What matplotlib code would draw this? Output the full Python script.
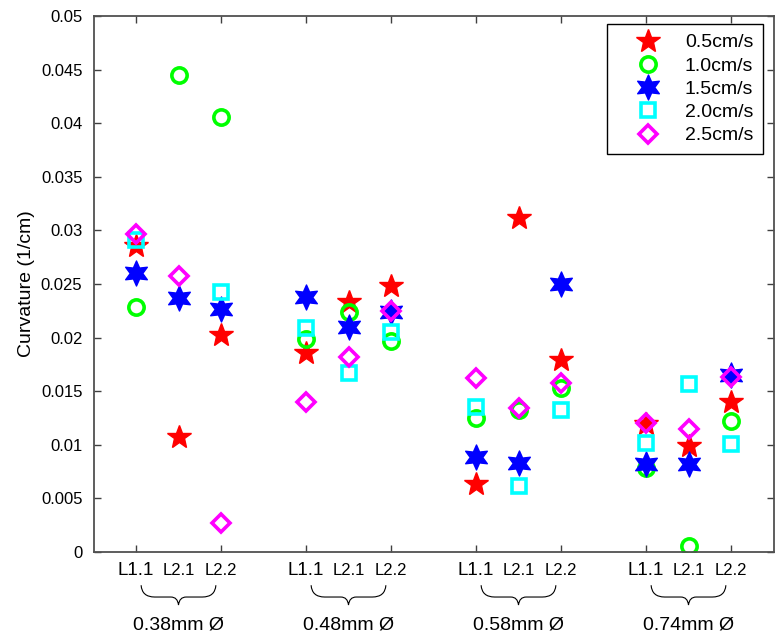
import numpy as np
import matplotlib
matplotlib.use("Agg")
import matplotlib.pyplot as plt
from matplotlib.path import Path
from matplotlib.patches import PathPatch
from matplotlib.transforms import blended_transform_factory

# ---------------- data ----------------
groups = ["0.38mm Ø", "0.48mm Ø", "0.58mm Ø", "0.74mm Ø"]
lines_lbl = ["L1.1", "L2.1", "L2.2"]
series_names = ["0.5cm/s", "1.0cm/s", "1.5cm/s", "2.0cm/s", "2.5cm/s"]

v05 = [0.0285, 0.0107, 0.0202, 0.0186, 0.0233, 0.0248, 0.0063, 0.0312, 0.0179, 0.0119, 0.0099, 0.0140]
v10 = [0.0229, 0.0445, 0.0406, 0.0199, 0.0224, 0.0197, 0.0125, 0.0132, 0.0153, 0.0078, 0.0006, 0.0122]
v15 = [0.0260, 0.0237, 0.0227, 0.0238, 0.0210, 0.0224, 0.0089, 0.0083, 0.0250, 0.0082, 0.0082, 0.0165]
v20 = [0.0291, np.nan, 0.0243, 0.0209, 0.0167, 0.0205, 0.0135, 0.0062, 0.0132, 0.0102, 0.0157, 0.0101]
v25 = [0.0297, 0.0257, 0.0027, 0.0140, 0.0182, 0.0225, 0.0162, 0.0134, 0.0158, 0.0120, 0.0115, 0.0163]

ytick_vals = [0, 0.005, 0.01, 0.015, 0.02, 0.025, 0.03, 0.035, 0.04, 0.045, 0.05]
ytick_lbls = ["0", "0.005", "0.01", "0.015", "0.02", "0.025", "0.03", "0.035", "0.04", "0.045", "0.05"]

# ---------------- styles ----------------
hexagram = Path.unit_regular_star(6, 0.5)
styles = [
    dict(marker="*", ms=18, mfc="#ff0000", mec="#ff0000", mew=1.0),
    dict(marker="o", ms=11, mfc="none", mec="#00ff00", mew=2.6),
    dict(marker=hexagram, ms=18, mfc="#0000ff", mec="#0000ff", mew=1.0),
    dict(marker="s", ms=10.5, mfc="none", mec="#00ffff", mew=2.6),
    dict(marker="D", ms=9, mfc="none", mec="#ff00ff", mew=2.6),
]

plt.rcParams["font.family"] = ["Liberation Sans", "DejaVu Sans"]

fig = plt.figure(figsize=(7.83, 6.36), dpi=100)
W, H = 783, 636
L, R, T, B = 93.5, 773.5, 16, 552
ax = fig.add_axes([L / W, 1 - B / H, (R - L) / W, (B - T) / H])

ng, nl = len(groups), len(lines_lbl)
xpos = np.array([g * (nl + 1) + i + 1 for g in range(ng) for i in range(nl)], dtype=float)

all_series = [v05, v10, v15, v20, v25]
handles = []
for vals, st, name in zip(all_series, styles, series_names):
    h, = ax.plot(xpos, vals, linestyle="none", label=name, **st)
    handles.append(h)

ax.set_xlim(0, ng * (nl + 1))
ax.set_ylim(0, 0.05)
ax.set_yticks(ytick_vals)
ax.set_yticklabels(ytick_lbls, fontsize=12)
edge_ticks = [g * (nl + 1) + i + 1 for g in range(ng) for i in (0, nl - 1)]
ax.set_xticks(edge_ticks)
ax.set_xticklabels([])
ax.tick_params(direction="in", length=5, width=1.0, color="#404040",
               top=True, right=True, pad=8)
for sp in ax.spines.values():
    sp.set_color("#505050")
    sp.set_linewidth(1.3)

ax.set_ylabel("Curvature (1/cm)", fontsize=14, labelpad=4)

# bottom category labels and braces
trans = blended_transform_factory(ax.transData, ax.transAxes)
for g, gname in enumerate(groups):
    base = g * (nl + 1) + 1
    for i, lab in enumerate(lines_lbl):
        ax.text(base + i, -0.034, lab, transform=trans, ha="center", va="center",
                fontsize=13.5 if i == 0 else 12, clip_on=False)
    c = base + 1
    x0, x1 = c - 0.88, c + 0.88
    ytop, ymid, ybot = -0.062, -0.084, -0.099
    verts = [(x0, ytop), (x0 + 0.02, ymid), (x0 + 0.32, ymid),
             (c - 0.18, ymid),
             (c - 0.02, ymid), (c, ybot),
             (c, ybot), (c + 0.02, ymid), (c + 0.18, ymid),
             (x1 - 0.32, ymid),
             (x1 - 0.02, ymid), (x1, ytop)]
    codes = [Path.MOVETO, Path.CURVE3, Path.CURVE3,
             Path.LINETO,
             Path.CURVE3, Path.CURVE3,
             Path.MOVETO, Path.CURVE3, Path.CURVE3,
             Path.LINETO,
             Path.CURVE3, Path.CURVE3]
    brace = PathPatch(Path(verts, codes), transform=trans, fill=False,
                      edgecolor="black", lw=0.8, clip_on=False)
    ax.add_patch(brace)
    ax.text(c, -0.137, gname, transform=trans, ha="center", va="center",
            fontsize=14, clip_on=False)

leg = ax.legend(handles=handles, loc="upper right",
                bbox_to_anchor=((763 - L) / (R - L), (B - 24) / (B - T)),
                borderaxespad=0, fontsize=14, numpoints=1, handlelength=3.2,
                handletextpad=0.3, borderpad=0.5, labelspacing=0.29,
                fancybox=False, framealpha=1, edgecolor="black")
leg.get_frame().set_linewidth(1.0)

fig.savefig("out.png", dpi=100)
